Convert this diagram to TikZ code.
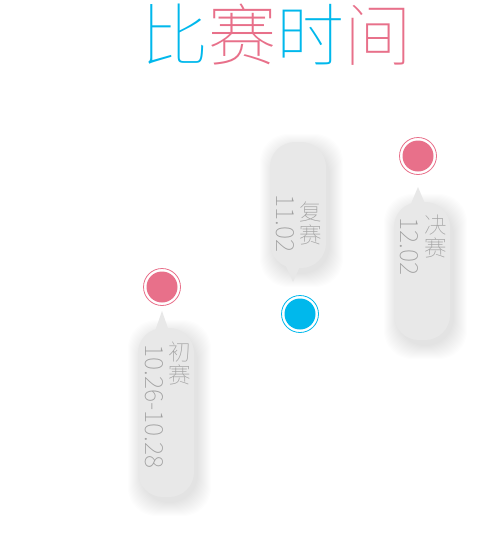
\documentclass[tikz,border=0pt]{standalone}
\usepackage{fontspec}
\setmainfont{Noto Sans CJK SC}[UprightFont={* Light}]
\newfontfamily\thinf{Noto Sans CJK SC}[UprightFont={* Thin}]
\definecolor{cy}{HTML}{00B8EC}
\definecolor{pk}{HTML}{E8708A}
\definecolor{bub}{HTML}{E8E8E8}
\definecolor{txt}{HTML}{A0A0A0}
\tikzset{
 bubble/.style={fill=bub, rounded corners=25pt},
 shd/.style={fill=black, fill opacity=0.009, rounded corners=28pt},
 tip/.style={fill=bub},
 lbl/.style={text=txt, font=\thinf\fontsize{22.5}{23}\selectfont, inner sep=0pt, align=center},
 num/.style={text=txt, font=\thinf\fontsize{25}{25}\selectfont, inner sep=0pt, rotate=-90},
 ttl/.style={font=\thinf\fontsize{68}{70}\selectfont, inner sep=0pt},
}
\newcommand\mydot[2]{%
 \fill[white] (#1) circle (19.5);
 \draw[#2, line width=0.8pt] (#1) circle (18.5);
 \fill[#2] (#1) circle (15.5);}
\newcommand\mybubble[4]{%
 \foreach \k in {0,1,...,13}{
  \path[shd] (#1+3-\k,#2+5-\k) rectangle (#3+4+\k,#4+6+\k);}
 \path[bubble] (#1,#2) rectangle (#3,#4);}
\begin{document}
\begin{tikzpicture}[x=1pt,y=-1pt]
\useasboundingbox[fill=white] (0,0) rectangle (486,533);
% title
\node[ttl] (title) at (276,35) {\textcolor{cy}{比}\textcolor{pk}{赛}\textcolor{cy}{时}\textcolor{pk}{间}};
% bubble 1
\mybubble{138}{328}{194}{497}
\fill[tip] (162,311) -- (154,334) -- (170,334) -- cycle;
\mydot{162,287}{pk}
\node[lbl, anchor=north] (l1) at (180,342) {初\\赛};
\node[num, anchor=west] (n1) at (154,344) {10.26-10.28};
% bubble 2
\mybubble{270}{142}{326}{268}
\fill[tip] (293,282) -- (285,264) -- (301,264) -- cycle;
\mydot{300,314}{cy}
\node[lbl, anchor=north] (l2) at (311,202) {复\\赛};
\node[num, anchor=west] (n2) at (285,194) {11.02};
% bubble 3
\mybubble{394}{202}{450}{340}
\fill[tip] (418,187) -- (410,206) -- (426,206) -- cycle;
\mydot{418,156}{pk}
\node[lbl, anchor=north] (l3) at (436,215) {决\\赛};
\node[num, anchor=west] (n3) at (409,217) {12.02};
\end{tikzpicture}
\end{document}
